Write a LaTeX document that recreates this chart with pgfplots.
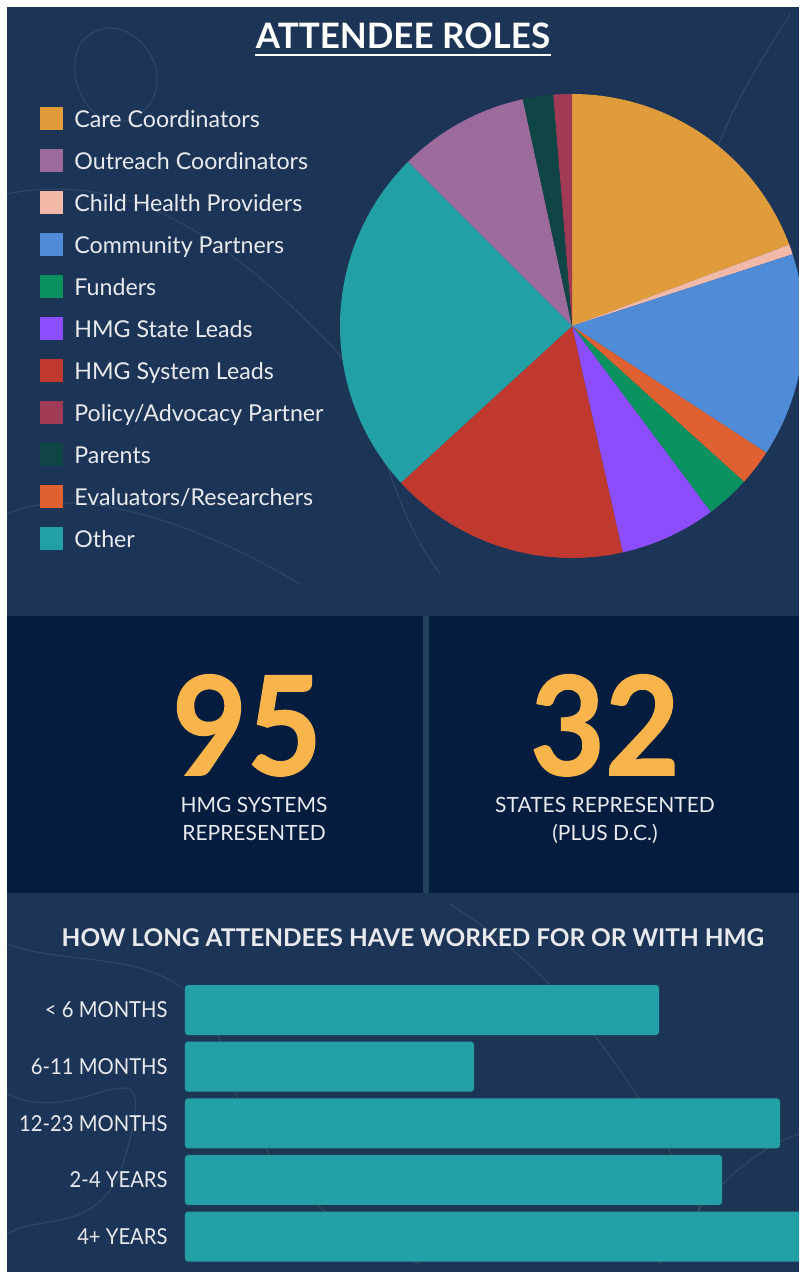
\documentclass[border=0pt]{standalone}
\usepackage{graphicx}
\usepackage{pgfplots}
\pgfplotsset{compat=1.18}
\usepackage{fontspec}
\setmainfont{Lato}
\newfontfamily\heavy{Lato}[BoldFeatures={FakeBold=1.2}]
\definecolor{bgnavy}{HTML}{1C3557}
\definecolor{panel}{HTML}{041D3F}
\definecolor{sepc}{HTML}{25405F}
\definecolor{txt}{HTML}{E8EAEE}
\definecolor{gold}{HTML}{F9B44C}
\definecolor{cCare}{HTML}{E09C3B}
\definecolor{cOutreach}{HTML}{9C6B9C}
\definecolor{cChild}{HTML}{F2B8A8}
\definecolor{cCommunity}{HTML}{4F8BD6}
\definecolor{cFunders}{HTML}{0A9160}
\definecolor{cState}{HTML}{8C4DFF}
\definecolor{cSystem}{HTML}{C0392F}
\definecolor{cPolicy}{HTML}{A03A55}
\definecolor{cParents}{HTML}{0F4545}
\definecolor{cEval}{HTML}{DF6030}
\definecolor{cOther}{HTML}{22A0A6}
\newcommand\cx[1]{\scalebox{0.92}[1]{#1}}
\begin{document}
\begin{tikzpicture}[x=0.5pt,y=0.5pt]
\useasboundingbox (0,0) rectangle (799,1274);
\fill[white] (0,0) rectangle (799,1274);
\fill[bgnavy] (7,2) rectangle (799,1267);
% faint background contours (decoration)
\begin{scope}[draw=white, opacity=0.08, line width=0.6pt]
\clip (7,2) rectangle (799,1267);
\draw (80,1230) .. controls (120,1280) and (190,1200) .. (140,1160) .. controls (100,1130) and (60,1190) .. (80,1230);
\draw (7,1080) .. controls (150,1110) and (260,1000) .. (330,930) .. controls (380,880) and (380,780) .. (440,700);
\draw (790,1260) .. controls (740,1180) and (700,1120) .. (690,1000);
\draw (7,760) .. controls (100,800) and (250,720) .. (300,690);
\draw (7,330) .. controls (90,300) and (200,340) .. (230,200) .. controls (250,120) and (330,40) .. (420,10);
\draw (7,180) .. controls (90,140) and (170,260) .. (120,100) .. controls (90,40) and (40,60) .. (7,40);
\draw (450,370) .. controls (560,300) and (640,200) .. (720,20);
\draw (799,140) .. controls (740,120) and (690,60) .. (660,10);
\end{scope}
\fill[panel] (7,381) rectangle (423,658);
\fill[sepc] (423,381) rectangle (429,658);
\fill[panel] (429,381) rectangle (799,658);

% title
\node[anchor=base, text=white, font=\fontsize{17.5}{20}\selectfont\bfseries, inner sep=0pt] (t) at (403,1225) {ATTENDEE ROLES};
\draw[white, line width=1.2pt] ([yshift=-3pt]t.base west) -- ([yshift=-3pt]t.base east);

% pie
\begin{axis}[at={(286pt,474pt)}, anchor=origin, x=116pt, y=116pt,
  xmin=-1.01, xmax=0.978, ymin=-1.01, ymax=1.01, hide axis, clip=true,
  every axis plot/.append style={draw=none, samples=80},
  legend image code/.code={\fill[#1] (0pt,-5.75pt) rectangle (11.5pt,5.75pt);},
  legend cell align=left,
  legend style={at={(-0.6454,0.9876)}, anchor=north west, draw=none, fill=none,
    inner sep=0pt, row sep=0pt, column sep=5.5pt, text=txt,
    font=\fontsize{11.6}{14}\selectfont,
    nodes={inner sep=0pt, minimum height=21pt, text height=8.4pt, text depth=0pt, anchor=west}},
]
\addplot[fill=cCare, domain=0:19.3] ({sin(3.6*x)},{cos(3.6*x)}) -- (0,0) -- cycle;
\addlegendentry{Care Coordinators}
\addplot[fill=cOutreach, domain=87.5:96.6] ({sin(3.6*x)},{cos(3.6*x)}) -- (0,0) -- cycle;
\addlegendentry{Outreach Coordinators}
\addplot[fill=cChild, domain=19.3:20.0] ({sin(3.6*x)},{cos(3.6*x)}) -- (0,0) -- cycle;
\addlegendentry{Child Health Providers}
\addplot[fill=cCommunity, domain=20.0:34.2] ({sin(3.6*x)},{cos(3.6*x)}) -- (0,0) -- cycle;
\addlegendentry{Community Partners}
\addplot[fill=cFunders, domain=36.7:39.8] ({sin(3.6*x)},{cos(3.6*x)}) -- (0,0) -- cycle;
\addlegendentry{Funders}
\addplot[fill=cState, domain=39.8:46.5] ({sin(3.6*x)},{cos(3.6*x)}) -- (0,0) -- cycle;
\addlegendentry{HMG State Leads}
\addplot[fill=cSystem, domain=46.5:63.2] ({sin(3.6*x)},{cos(3.6*x)}) -- (0,0) -- cycle;
\addlegendentry{HMG System Leads}
\addplot[fill=cPolicy, domain=98.7:100] ({sin(3.6*x)},{cos(3.6*x)}) -- (0,0) -- cycle;
\addlegendentry{Policy/Advocacy Partner}
\addplot[fill=cParents, domain=96.6:98.7] ({sin(3.6*x)},{cos(3.6*x)}) -- (0,0) -- cycle;
\addlegendentry{Parents}
\addplot[fill=cEval, domain=34.2:36.7] ({sin(3.6*x)},{cos(3.6*x)}) -- (0,0) -- cycle;
\addlegendentry{Evaluators/Researchers}
\addplot[fill=cOther, domain=63.2:87.5] ({sin(3.6*x)},{cos(3.6*x)}) -- (0,0) -- cycle;
\addlegendentry{Other}
\end{axis}

% stats
\node[anchor=base, text=gold, inner sep=0pt, text height=49.5pt, text depth=0pt, font=\fontsize{68.6}{69}\selectfont\heavy\bfseries] at (247,499) {\scalebox{0.94}[1]{95}};
\node[anchor=base, text=gold, inner sep=0pt, text height=49.5pt, text depth=0pt, font=\fontsize{68.6}{69}\selectfont\heavy\bfseries] at (605,499) {\scalebox{0.94}[1]{32}};
\node[anchor=base, text=txt, inner sep=0pt, font=\fontsize{10.5}{12}\selectfont] at (254,461) {HMG SYSTEMS};
\node[anchor=base, text=txt, inner sep=0pt, font=\fontsize{10.5}{12}\selectfont] at (254,433) {REPRESENTED};
\node[anchor=base, text=txt, inner sep=0pt, font=\fontsize{10.5}{12}\selectfont] at (605,461) {STATES REPRESENTED};
\node[anchor=base, text=txt, inner sep=0pt, font=\fontsize{10.5}{12}\selectfont] at (605,433) {(PLUS D.C.)};

% bottom title
\node[anchor=base, text=txt, inner sep=0pt, font=\fontsize{12.2}{14}\selectfont\bfseries] at (413,327) {HOW LONG ATTENDEES HAVE WORKED FOR OR WITH HMG};

% bars
\begin{axis}[at={(92.5pt,132pt)}, anchor=origin, x=5pt, y=28.333pt, y dir=reverse,
  xmin=0, xmax=61.4, ymin=-0.5, ymax=4.5, clip=true,
  axis line style={draw=none}, major tick style={draw=none},
  xtick=\empty, ytick={0,1,2,3,4},
  yticklabels={{\cx{< 6 MONTHS}},{\cx{6-11 MONTHS}},{\cx{12-23 MONTHS}},{\cx{2-4 YEARS}},{\cx{4+ YEARS}}},
  yticklabel style={text=txt, font=\fontsize{11}{13}\selectfont, inner sep=0pt, text height=7.9pt, text depth=0pt, anchor=east, xshift=-8.5pt},
]
\addplot[xbar, bar width=25pt, fill=cOther, draw=none, rounded corners=1.5pt]
  coordinates {(47.4,0) (28.9,1) (59.5,2) (53.7,3) (64,4)};
\end{axis}
\end{tikzpicture}
\end{document}
